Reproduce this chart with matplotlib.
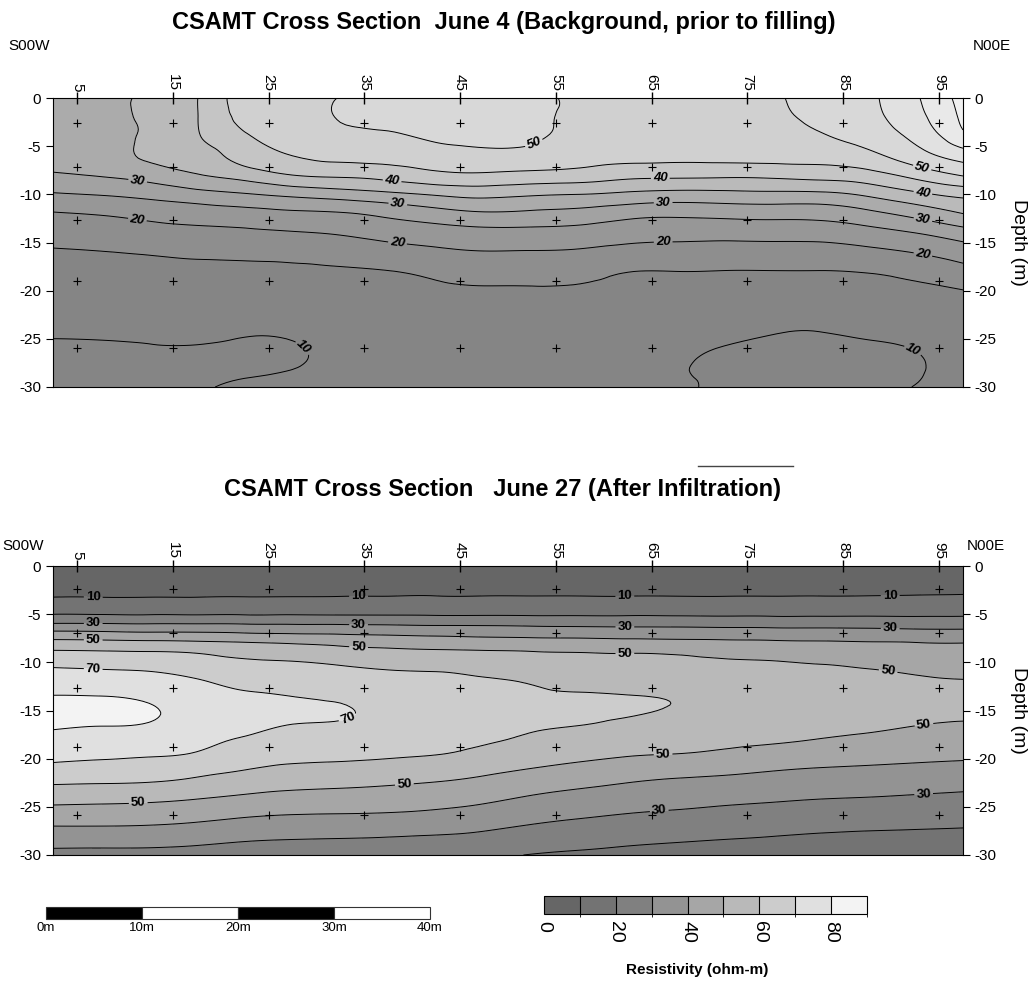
import numpy as np
import matplotlib
matplotlib.use('Agg')
import matplotlib.pyplot as plt
import matplotlib.tri as mtri
from matplotlib.colors import ListedColormap, BoundaryNorm
from matplotlib.cm import ScalarMappable
from matplotlib.lines import Line2D

plt.rcParams['font.family'] = ['Liberation Sans', 'DejaVu Sans']
plt.rcParams['axes.unicode_minus'] = False

# grid columns along the line (m)
grid_x = [2.5, 7.5, 12.5, 17.5, 22.5, 27.5, 32.5, 37.5, 42.5, 47.5,
          52.5, 57.5, 62.5, 67.5, 72.5, 77.5, 82.5, 87.5, 92.5, 97.5]

# June 4 section: depth rows and resistivity (ohm-m), one list per column
depth_june4 = [0, -2, -4, -6, -8, -10, -12, -14, -16, -18, -20, -22, -24, -26, -28, -30]
res_june4 = [
    [33, 33, 32.5, 31.5, 29.5, 24.5, 19.7, 16.9, 14.6, 13.6, 12.55, 11.5, 10.5, 9.6, 9.3, 9.2],
    [33.8, 34, 33.7, 32.5, 30.3, 25.3, 20.3, 17.4, 14.9, 13.8, 12.7, 11.6, 10.6, 9.6, 9.1, 9.0],
    [35.6, 35.6, 35.6, 35.7, 32, 26.5, 21.4, 18.1, 15.3, 14.0, 12.9, 11.9, 10.8, 9.8, 9.2, 9.0],
    [39.8, 39.8, 39.5, 37.5, 34.7, 28.1, 22.5, 18.6, 15.7, 14.2, 13.2, 12.1, 11.0, 9.8, 9.3, 9.6],
    [47, 46.5, 44.5, 42.2, 37.1, 29.6, 23.2, 19.1, 16.0, 14.1, 12.9, 11.7, 10.5, 9.5, 9.6, 10.5],
    [48, 48, 47, 45, 40, 31.2, 24.1, 19.7, 16.3, 14.3, 13.1, 11.9, 10.7, 9.7, 9.95, 10.6],
    [50.2, 50.3, 48.7, 46.4, 40.9, 32.5, 24.6, 20.4, 16.8, 14.6, 13.5, 12.4, 11.4, 10.8, 10.5, 10.5],
    [52, 51.5, 49.2, 46.7, 42.0, 33.9, 26.25, 21.7, 18.0, 14.9, 13.8, 12.8, 11.9, 11.2, 10.8, 10.6],
    [53, 52.5, 51, 47.8, 43.8, 35.5, 28.1, 22.7, 19.1, 15.9, 14.4, 13.5, 12.8, 12.1, 11.5, 11.2],
    [53, 52.6, 51.5, 48.8, 44.2, 36.5, 29.4, 23.5, 19.8, 16.6, 14.7, 13.8, 13.0, 12.3, 11.8, 11.5],
    [51.5, 51.3, 50.8, 48.5, 43.5, 35.6, 29.0, 23.5, 19.7, 16.6, 14.7, 13.7, 12.9, 12.2, 11.7, 11.4],
    [49, 48.8, 48.2, 47, 42.9, 35, 28.3, 23.1, 19.4, 16.3, 14.6, 13.6, 12.8, 12.0, 11.5, 11.2],
    [48.6, 48.5, 48, 46.5, 41.5, 34.0, 26.7, 22.0, 18.4, 15.1, 14.0, 13.0, 12.0, 11.2, 10.7, 10.4],
    [48.4, 48.3, 48, 46.3, 41.2, 33.3, 26.1, 21.6, 18.1, 15.0, 13.5, 12.3, 11.2, 10.5, 10.2, 10.4],
    [48.5, 48.4, 48.0, 46.5, 41.0, 33.5, 26.5, 21.6, 17.8, 14.9, 13.2, 12.0, 10.9, 9.9, 9.4, 9.3],
    [49.5, 49.3, 48.8, 46.8, 41.2, 33.8, 26.8, 21.8, 17.9, 14.9, 13.2, 11.9, 10.4, 9.3, 8.8, 8.6],
    [51.5, 50.8, 49.6, 46.8, 41.9, 33.9, 26.9, 22.0, 17.9, 14.9, 13.2, 11.8, 10.2, 9.0, 8.5, 8.3],
    [54, 53.5, 52, 48.6, 43.1, 35.8, 28.7, 23.2, 18.8, 15.2, 13.7, 12.4, 10.9, 9.4, 8.8, 8.6],
    [59.3, 58.3, 56.2, 52.8, 46.6, 38.9, 31.6, 25.0, 20.2, 16.3, 14.1, 12.6, 11.3, 10.1, 9.7, 10.1],
    [66.8, 65.9, 63.8, 57.2, 50.4, 41.4, 35, 27.8, 22.4, 18.3, 14.9, 13.5, 12.5, 11.8, 11.2, 10.8],
]

# June 27 section
depth_june27 = [0, -1.5, -3, -4, -5, -6, -7, -8, -9, -10, -11, -12, -13.5, -15,
                -16.5, -18, -19.5, -21, -22.5, -24, -25.5, -27, -28.5, -30]
res_june27 = [
    [4, 6, 9, 13.75, 19.9, 30.5, 42.9, 53.6, 61.7, 67.4, 71.9, 75.3, 80.3, 84, 81.5, 77.1, 72.9, 67.7, 60.9, 53.8, 46.8, 40, 33.5, 27],
    [4, 6, 9, 13.6, 19.7, 30.4, 42.4, 53.2, 61.2, 66.5, 71.2, 74.7, 80, 82.5, 80.3, 76.3, 72, 66.7, 60.4, 53.3, 46.5, 40, 33.3, 27],
    [4, 6, 9, 13.7, 19.5, 30, 41.5, 52.7, 60.7, 65.6, 70.3, 73.3, 77.9, 81.2, 79.4, 75.3, 71.1, 65.7, 59.8, 52.6, 46, 39.6, 33.1, 27],
    [4, 6, 9, 13.7, 19.4, 30, 41.4, 51.9, 59.7, 63.6, 67.4, 70.8, 73.5, 75.5, 75, 72.5, 69.4, 63.6, 57.7, 50.9, 44.6, 38.3, 32.1, 26],
    [4, 6, 9.1, 13.8, 19.4, 29.7, 40.5, 50.7, 57.1, 61.6, 64.5, 67.4, 71.5, 73.8, 72.5, 69.1, 64.9, 60.6, 54.8, 48.8, 42.5, 36.4, 30.4, 25],
    [4, 6, 9.2, 13.9, 19.5, 29.4, 39.7, 49.5, 55.3, 60.5, 63.2, 65.9, 69.9, 72, 69.8, 66.2, 62.6, 58.5, 53, 47.2, 41.2, 35.4, 29.6, 25],
    [4, 6, 9.3, 14, 19.3, 29.2, 39.2, 48, 53.6, 58.7, 61.9, 64.3, 68, 71.2, 68.7, 65.3, 62, 57.8, 52.2, 46.5, 40.8, 35.1, 29.2, 24.5],
    [4, 6, 9.4, 14.1, 19.3, 28.8, 38.5, 46.6, 52.6, 57.2, 60.6, 62.5, 65, 66.5, 65.5, 63.5, 61.2, 56.7, 51.1, 45.7, 40.4, 34.2, 28.8, 24],
    [4, 6, 9.5, 14.3, 19.1, 28.2, 37.7, 45.6, 51.7, 56, 60.1, 61.6, 63.7, 65, 64.2, 62.5, 60.3, 55, 49.7, 44.5, 39.2, 33.5, 28, 23.5],
    [4, 6, 9.5, 14.2, 19.0, 28.2, 37, 44.9, 51.2, 54.8, 58.4, 61, 63, 64, 63, 61.2, 57.5, 52.6, 47.6, 42.4, 37.1, 31.8, 26.7, 21.7],
    [4, 6, 9.5, 14.2, 19.0, 27.6, 36.5, 44.3, 50.6, 53.5, 56.5, 59.4, 61.2, 62, 61, 58.6, 54.3, 50, 44.6, 39.3, 34.3, 29.4, 24.5, 19.7],
    [4, 6, 9.5, 14.2, 19, 27.2, 36.2, 43.8, 50.1, 52.7, 55.3, 57.8, 60.6, 61.3, 60.1, 56.2, 52.3, 47.8, 42.2, 37.1, 32.3, 27.6, 23, 18.5],
    [4, 6, 9.4, 14.2, 19, 27, 35.8, 43.3, 49.7, 52.2, 54.5, 56.9, 60.2, 60.8, 58.4, 54.6, 50.8, 45.6, 40, 35.3, 30.6, 26.1, 21.6, 17.5],
    [4, 6, 9.4, 14.1, 18.9, 26.9, 35.5, 42.9, 49.2, 51.8, 54, 56, 59.3, 59.4, 57, 53.5, 50, 44, 38.5, 34, 29.4, 25, 20.6, 16.5],
    [4, 6, 9.4, 14, 18.7, 26.6, 35.1, 42.2, 47.4, 51.3, 53.3, 55, 57.3, 57.8, 55.8, 52.5, 48.5, 42.7, 37.5, 32.7, 28.2, 24, 19.7, 16],
    [4, 6, 9.4, 14, 18.6, 26.4, 34.8, 41.7, 46.4, 50.6, 52.4, 54, 56, 56.5, 54.5, 51.5, 46.4, 41, 36.2, 31.6, 27.2, 23, 18.9, 15.5],
    [4, 6, 9.5, 14, 18.6, 26.4, 34.5, 41.2, 45.3, 49.4, 51.5, 53, 54.8, 55.2, 53.3, 49.8, 44.8, 39.8, 35.2, 30.6, 26.3, 22.1, 17.9, 14.5],
    [4, 6, 9.6, 14.1, 18.6, 26.3, 34.2, 40.7, 44.3, 47.9, 50.8, 52.5, 54.5, 55, 52.5, 47.9, 43.5, 39.1, 34.5, 30, 25.7, 21.4, 17.4, 14],
    [4, 6, 9.9, 14.3, 18.7, 25.5, 33.8, 40.3, 43.3, 46.3, 49.3, 51.3, 53.5, 54, 50.3, 46.2, 42.5, 38.4, 33.8, 29.2, 25.1, 21, 16.9, 13.5],
    [4, 6, 10.2, 14.5, 18.7, 25.8, 33.3, 40, 42.6, 45.3, 47.9, 50.6, 53.5, 53.5, 48.6, 45.2, 41.8, 37.7, 32.9, 28.4, 24.5, 20.5, 16.7, 13],
]

# measurement stations (+)
station_x = [5, 15, 25, 35, 45, 55, 65, 75, 85, 95]
station_depth_june4 = [-2.6, -7.2, -12.7, -19.0, -25.9]
station_depth_june27 = [-2.4, -7.0, -12.7, -18.8, -25.8]

# contour levels and grey fills
levels_june4 = [0, 10, 15, 20, 25, 30, 35, 40, 45, 50, 55, 60, 65, 75]
colors_june4 = ['#858585', '#858585', '#8e8e8e', '#979797', '#a2a2a2', '#ababab', '#bababa',
                '#c5c5c5', '#d0d0d0', '#d8d8d8', '#e1e1e1', '#e9e9e9', '#f0f0f0']
plain_june4 = [15, 25, 35, 45, 55, 60, 65]
labeled_june4 = [10, 20, 30, 40, 50]
label_pos_june4 = [(11.3, -8.8), (11.3, -12.7), (37.9, -8.6), (38.5, -11.0), (38.5, -14.7),
                   (53, -5.4), (65.9, -8.5), (66.2, -11.0), (66.2, -14.9), (93.3, -7.0),
                   (93.3, -9.9), (93.3, -12.7), (93.3, -16.3), (28.6, -25.9), (92.1, -26.5)]

levels_june27 = [0, 10, 20, 30, 40, 50, 60, 70, 80, 90]
fill_june27 = [-10, 10, 20, 30, 40, 50, 60, 70, 80, 100]
colors_june27 = ['#666666', '#737373', '#808080', '#939393', '#a6a6a6',
                 '#b9b9b9', '#cccccc', '#e0e0e0', '#f3f3f3']
plain_june27 = [20, 40, 60, 80]
labeled_june27 = [10, 30, 50, 70]
label_pos_june27 = [(6.7, -3.4), (34.4, -3.2), (62.2, -3.3), (89.9, -3.1),
                    (6.7, -6.0), (34.4, -6.1), (62.2, -6.3), (89.9, -6.5),
                    (6.7, -7.6), (34.4, -8.4), (62.2, -9.1), (89.7, -10.8),
                    (6.7, -10.6), (33.2, -15.6), (39.2, -22.9), (11.4, -24.7),
                    (66.2, -19.7), (93.4, -16.3), (65.8, -25.6), (93.4, -23.8)]

depth_ticks = [0, -5, -10, -15, -20, -25, -30]
cbar_ticks = [0, 20, 40, 60, 80]
scale_marks = [0, 10, 20, 30, 40]
scale_labels = ['0m', '10m', '20m', '30m', '40m']

W, H = 1033, 985


def draw_section(ax, depths, columns, levels, colors, plain, labeled, label_pos,
                 station_depths, italic):
    X, Y = np.meshgrid(grid_x, depths)
    Z = np.array(columns).T
    # smooth the gridded values with matplotlib's cubic triangle refiner
    tri = mtri.Triangulation(X.ravel(), Y.ravel())
    refiner = mtri.UniformTriRefiner(tri)
    tri_f, z_f = refiner.refine_field(Z.ravel(), subdiv=3)
    ax.tricontourf(tri_f, z_f, levels=levels, colors=colors)
    ax.tricontour(tri_f, z_f, levels=plain, colors='black', linewidths=0.7)
    cs = ax.tricontour(tri_f, z_f, levels=labeled, colors='black', linewidths=0.7)
    texts = ax.clabel(cs, manual=label_pos, fmt='%d', fontsize=9.5,
                      inline=True, inline_spacing=2)
    for t in texts:
        t.set_fontweight('bold')
        if italic:
            t.set_fontstyle('italic')

    sx, sy = np.meshgrid(station_x, station_depths)
    ax.plot(sx.ravel(), sy.ravel(), '+', color='black', ms=5.5, mew=0.8)

    ax.set_xlim(2.5, 97.5)
    ax.set_ylim(-30, 0)
    ax.xaxis.tick_top()
    ax.set_xticks(station_x)
    ax.set_xticklabels([str(v) for v in station_x], rotation=-90)
    ax.set_yticks(depth_ticks)
    ax.tick_params(axis='x', direction='inout', length=8, width=1, labelsize=11, pad=1)
    ax.tick_params(axis='y', direction='out', length=5, labelsize=11,
                   left=True, right=True, labelleft=True, labelright=True)
    for s in ax.spines.values():
        s.set_linewidth(0.8)


fig = plt.figure(figsize=(W / 100, H / 100), dpi=100)

ax1 = fig.add_axes([53 / W, 1 - 387 / H, 910 / W, 289 / H])
draw_section(ax1, depth_june4, res_june4, levels_june4, colors_june4, plain_june4,
             labeled_june4, label_pos_june4, station_depth_june4, True)

ax2 = fig.add_axes([53 / W, 1 - 855 / H, 910 / W, 289 / H])
draw_section(ax2, depth_june27, res_june27, fill_june27, colors_june27, plain_june27,
             labeled_june27, label_pos_june27, station_depth_june27, False)

# titles and side labels
fig.text(504 / W, 1 - 22 / H, 'CSAMT Cross Section  June 4 (Background, prior to filling)',
         ha='center', va='center', fontsize=17, fontweight='bold')
fig.text(502 / W, 1 - 490 / H, 'CSAMT Cross Section   June 27 (After Infiltration)',
         ha='center', va='center', fontsize=17, fontweight='bold')
fig.text(8 / W, 1 - 46 / H, 'S00W', ha='left', va='center', fontsize=11)
fig.text(973 / W, 1 - 46 / H, 'N00E', ha='left', va='center', fontsize=11)
fig.text(2 / W, 1 - 546 / H, 'S00W', ha='left', va='center', fontsize=11)
fig.text(967 / W, 1 - 546 / H, 'N00E', ha='left', va='center', fontsize=11)
fig.text(1018 / W, 1 - 242 / H, 'Depth (m)', rotation=-90, ha='center', va='center', fontsize=14)
fig.text(1018 / W, 1 - 710 / H, 'Depth (m)', rotation=-90, ha='center', va='center', fontsize=14)

# small stray line above the second title
fig.add_artist(Line2D([698 / W, 793 / W], [1 - 466 / H, 1 - 466 / H], color='#444444', lw=1))

# scale bar
sax = fig.add_axes([46 / W, 1 - 919 / H, 384 / W, 12 / H])
bars = sax.bar(scale_marks[:-1], [1] * 4, width=10, align='edge',
               color=['black', 'white', 'black', 'white'], edgecolor='#333333', linewidth=0.8)
for b in bars:
    b.set_clip_on(False)
sax.set_xlim(0, 40)
sax.set_ylim(0, 1)
sax.set_yticks([])
sax.set_xticks(scale_marks)
sax.set_xticklabels(scale_labels, fontsize=9.5)
sax.tick_params(axis='x', length=0, pad=2)
for s in sax.spines.values():
    s.set_visible(False)

# colour legend
cax = fig.add_axes([544 / W, 1 - 914 / H, 323 / W, 18 / H])
cmap = ListedColormap(colors_june27)
norm = BoundaryNorm(levels_june27, cmap.N)
cb = fig.colorbar(ScalarMappable(norm=norm, cmap=cmap), cax=cax, orientation='horizontal',
                  ticks=cbar_ticks, drawedges=True)
cb.ax.set_xticklabels([str(v) for v in cbar_ticks], rotation=-90, fontsize=14)
cb.ax.tick_params(length=0, pad=5)
cb.outline.set_linewidth(0.8)
cb.dividers.set_color('black')
cb.dividers.set_linewidth(0.8)
fig.text(697 / W, 1 - 970 / H, 'Resistivity (ohm-m)', ha='center', va='center',
         fontsize=11, fontweight='bold')

plt.savefig('out.png', dpi=100)
